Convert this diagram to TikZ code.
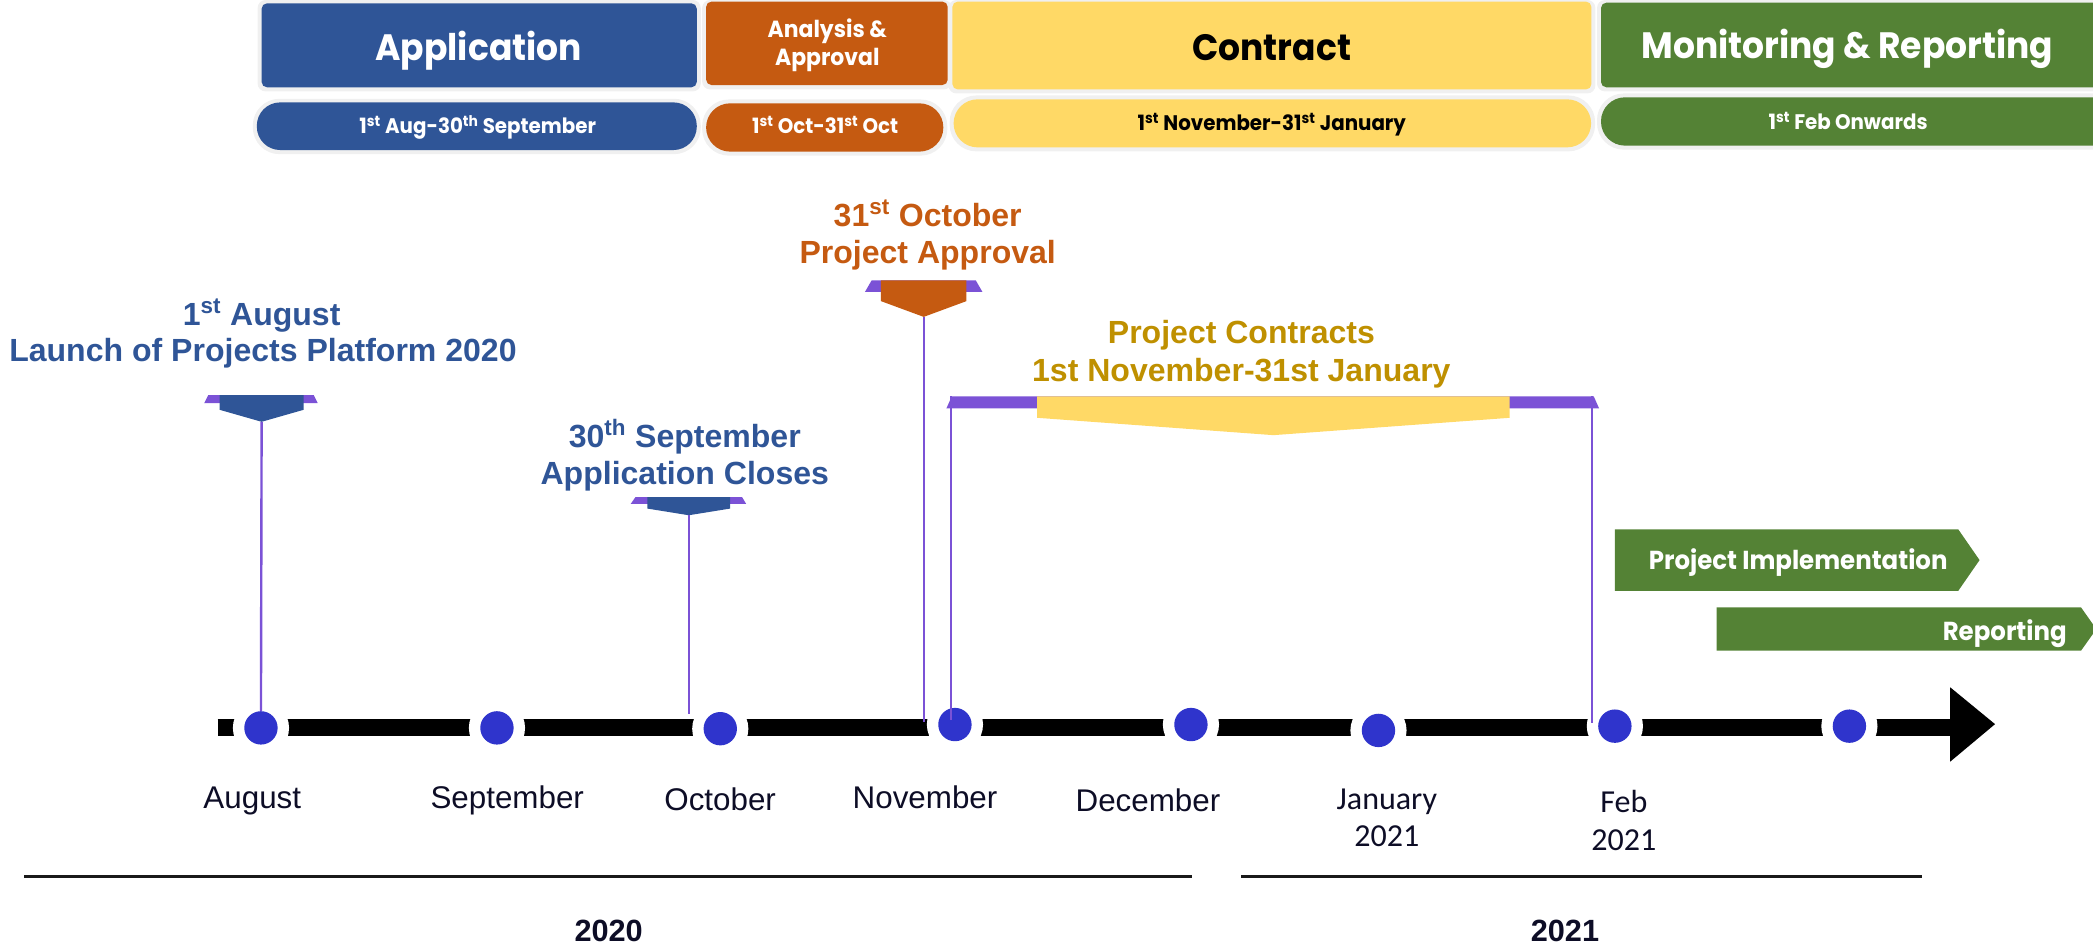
\documentclass[tikz,border=0pt]{standalone}
\usepackage{fontspec}
\setmainfont{Liberation Sans}
\newfontfamily\gothic{Poppins}[FakeStretch=0.94]
\newfontfamily\calib{Carlito}
\usetikzlibrary{arrows.meta}
\definecolor{appblue}{HTML}{2F5597}
\definecolor{apporange}{HTML}{C55A11}
\definecolor{appyellow}{HTML}{FFD966}
\definecolor{appgreen}{HTML}{548235}
\definecolor{appgold}{HTML}{BF9000}
\definecolor{apppurple}{HTML}{7B52D6}
\definecolor{dotblue}{HTML}{2F34CC}
\definecolor{monthink}{HTML}{0D0D26}
\newcommand{\fsz}[2]{\fontsize{#1}{#2}\selectfont}
\begin{document}
\begin{tikzpicture}[x=1pt,y=-1pt,
  hdr/.style={font=\gothic\bfseries\fsz{27.5}{30}, inner sep=0, anchor=base},
  hdrsmall/.style={font=\gothic\bfseries\fsz{17.5}{20}, inner sep=0, anchor=base, text=white},
  pilltext/.style={font=\gothic\bfseries\fsz{15.8}{18}, inner sep=0, anchor=base},
  evlabel/.style={font=\bfseries\fsz{24}{28}, inner sep=0, anchor=base},
  month/.style={font=\fsz{23.5}{26}, text=monthink, inner sep=0, anchor=base},
  monthc/.style={font=\calib\fsz{24}{26}, text=monthink, inner sep=0, anchor=base},
  yearlbl/.style={font=\bfseries\fsz{23}{26}, text=monthink, inner sep=0, anchor=base},
  dot/.style={circle, fill=dotblue, minimum size=25, inner sep=0, preaction={draw=white, line width=17}},
  vline/.style={draw=apppurple, line width=1.8},
  timebar/.style={line width=12.5, draw=black},
  yearline/.style={line width=2.2, draw=black!90},
  halo/.style={fill=black!6},
  banner/.style={font=\gothic\bfseries\fsz{19.5}{22}, text=white, inner sep=0}
]
\useasboundingbox (0,0) rectangle (1568,709);

% ---------- header shadows ----------
\fill[halo, rounded corners=6] (193,0) rectangle (525,68.5);
\fill[halo, rounded corners=6] (526,0) rectangle (713,67);
\fill[halo, rounded corners=6] (710.5,0) rectangle (1195.2,70);
\fill[halo, rounded corners=6] (1196.4,0) rectangle (1580,68.5);
\fill[halo, rounded corners=20] (189.4,74) rectangle (525,115.5);
\fill[halo, rounded corners=20] (526,74.5) rectangle (709.7,116.6);
\fill[halo, rounded corners=20] (711.4,71.5) rectangle (1195,113.4);
\fill[halo, rounded corners=20] (1196.4,70) rectangle (1590,112.1);

% ---------- header boxes ----------
\fill[appblue, rounded corners=4] (196,2.5) rectangle (522,65.4);
\fill[apporange, rounded corners=4] (529,1.2) rectangle (710,63.7);
\fill[appyellow, rounded corners=4] (713.5,1.2) rectangle (1192.2,67);
\fill[appgreen, rounded corners=4] (1199.4,2) rectangle (1580,65.4);

\fill[appblue, rounded corners=17.5] (192.4,76.7) rectangle (522,112.4);
\fill[apporange, rounded corners=18] (529,77.4) rectangle (706.7,113.6);
\fill[appyellow, rounded corners=18] (714.4,74.4) rectangle (1192,110.4);
\fill[appgreen, rounded corners=18] (1199.4,72.9) rectangle (1590,109.1);

\node[hdr, text=white] (hApp) at (358.6,45) {Application};
\node[hdrsmall] (hAnaA) at (619.8,28) {Analysis \&};
\node[hdrsmall] (hAnaB) at (619.8,48.7) {Approval};
\node[hdr, text=black] (hCon) at (952.7,45) {Contract};
\node[hdr, text=white] (hMon) at (1383.9,43.7) {Monitoring \& Reporting};

\node[pilltext, text=white] (pApp) at (357.9,100) {1\textsuperscript{st} Aug-30\textsuperscript{th} September};
\node[pilltext, text=white] (pAna) at (618.2,100) {1\textsuperscript{st} Oct-31\textsuperscript{st} Oct};
\node[pilltext, text=black] (pCon) at (952.8,97.5) {1\textsuperscript{st} November-31\textsuperscript{st} January};
\node[pilltext, text=white] (pMon) at (1384.5,97) {1\textsuperscript{st} Feb Onwards};

% ---------- event markers ----------
\fill[apppurple] (153,302) -- (238,302) -- (235,296) -- (156,296) -- cycle;
\fill[appblue] (164.5,296) -- (227.5,296) -- (227.5,307) -- (196,316) -- (164.5,307) -- cycle;
\coordinate (mAug) at (196,316);

\fill[apppurple] (472.5,377.5) -- (559,377.5) -- (556,372.5) -- (476,372.5) -- cycle;
\fill[appblue] (485,372.5) -- (547,372.5) -- (547,381) -- (516,386) -- (485,381) -- cycle;
\coordinate (mSep) at (516,386);

\fill[apppurple] (648,218.7) -- (736,218.7) -- (731,210) -- (653,210) -- cycle;
\fill[apporange] (660,210) -- (724,210) -- (724,225.6) -- (692,237.4) -- (660,225.6) -- cycle;
\coordinate (mOct) at (692,237.4);

\fill[apppurple] (709,306) -- (1198,306) -- (1194,297) -- (713,297) -- cycle;
\fill[appyellow] (777,297) -- (1131,297) -- (1131,313) -- (954,326) -- (777,313) -- cycle;
\coordinate (bL) at (712.6,297);
\coordinate (bR) at (1192.7,297);

\node[evlabel, text=appblue] (lAugA) at (196,244) {1\textsuperscript{st} August};
\node[evlabel, text=appblue] (lAugB) at (197,271) {Launch of Projects Platform 2020};
\node[evlabel, text=appblue] (lSepA) at (513,335) {30\textsuperscript{th} September};
\node[evlabel, text=appblue] (lSepB) at (513,363) {Application Closes};
\node[evlabel, text=apporange] (lOctA) at (695,170) {31\textsuperscript{st} October};
\node[evlabel, text=apporange] (lOctB) at (695,197.5) {Project Approval};
\node[evlabel, text=appgold] (lConA) at (930,257.5) {Project Contracts};
\node[evlabel, text=appgold] (lConB) at (930,285.5) {1st November-31st January};

% ---------- banners ----------
\fill[appgreen] (1209.7,396.5) -- (1467,396.5) -- (1483,419.6) -- (1467,442.7) -- (1209.7,442.7) -- cycle;
\node[banner, anchor=base west] (tImpl) at (1235,427) {Project Implementation};
\fill[appgreen] (1286,455) -- (1559,455) -- (1570.5,471.3) -- (1559,487.5) -- (1286,487.5) -- cycle;
\node[banner, anchor=base east] (tRep) at (1548.5,479.5) {Reporting};

% ---------- time bar ----------
\coordinate (barL) at (163,545);
\coordinate (barR) at (1462,545);
\draw[timebar] (barL) -- (barR);
\fill[black] (1461,514.9) -- (1494.6,542.5) -- (1461,570.6) -- cycle;

\node[dot] (dAug) at (195.5,545.3) {};
\node[dot] (dSep) at (372.3,545.3) {};
\node[dot] (dOct) at (539.6,545.9) {};
\node[dot] (dNov) at (715.4,542.8) {};
\node[dot] (dDec) at (892.2,542.8) {};
\node[dot] (dJan) at (1032.7,547.2) {};
\node[dot] (dFeb) at (1209.8,544) {};
\node[dot] (dMar) at (1385.5,544) {};

\coordinate (eSep) at (516,535);
\coordinate (eOct) at (692,540.6);
\coordinate (eL) at (712.6,539.5);
\coordinate (eR) at (1192.7,541.4);
\draw[vline] (mAug) -- (dAug.north);
\draw[vline] (mSep) -- (eSep);
\draw[vline] (mOct) -- (eOct);
\draw[vline] (bL) -- (eL);
\draw[vline] (bR) -- (eR);

% ---------- month labels ----------
\node[month] (mlAug) at (189,605.6) {August};
\node[month] (mlSep) at (380,605.6) {September};
\node[month] (mlOct) at (539.5,607.3) {October};
\node[month] (mlNov) at (693,605.6) {November};
\node[month] (mlDec) at (860,608) {December};
\node[monthc] (mlJanA) at (1039,606.8) {January};
\node[monthc] (mlJanB) at (1039,634.3) {2021};
\node[monthc] (mlFebA) at (1216.5,609) {Feb};
\node[monthc] (mlFebB) at (1216.5,636.8) {2021};

% ---------- years ----------
\coordinate (y0a) at (18,656.5);
\coordinate (y0b) at (893,656.5);
\coordinate (y1a) at (930,656.5);
\coordinate (y1b) at (1439.6,656.5);
\draw[yearline] (y0a) -- (y0b);
\draw[yearline] (y1a) -- (y1b);
\node[yearlbl] (yr0) at (456,705.5) {2020};
\node[yearlbl] (yr1) at (1172.4,705.5) {2021};
\end{tikzpicture}
\end{document}
